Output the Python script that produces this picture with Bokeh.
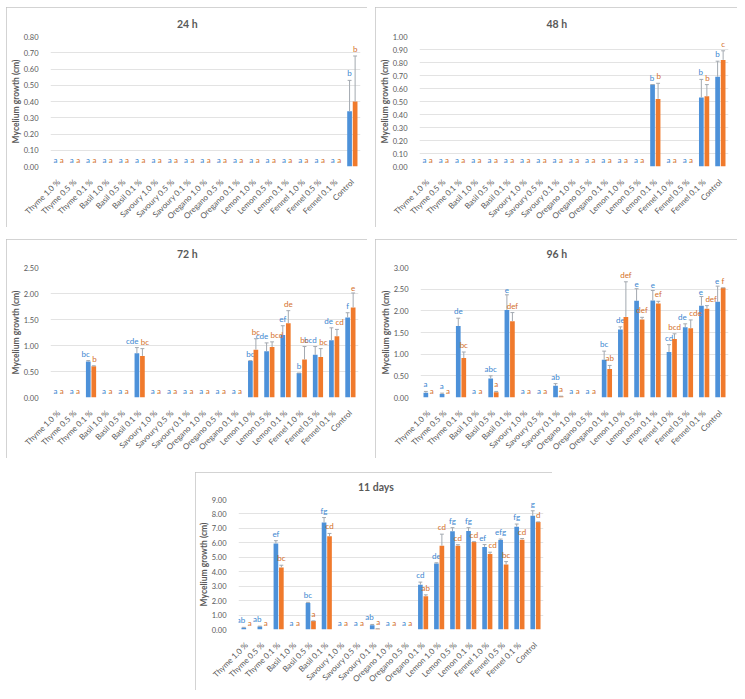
from math import pi
from bokeh.plotting import figure
from bokeh.models import (ColumnDataSource, Range1d, SingleIntervalTicker, NumeralTickFormatter,
                          Spacer, Title)
from bokeh.transform import dodge
from bokeh.layouts import row, column
from bokeh.embed import file_html
from bokeh.resources import INLINE
from bokeh.core.properties import value

FONT = "Lato"

categories = ["Thyme 1.0 %", "Thyme 0.5 %", "Thyme 0.1 %", "Basil 1.0 %", "Basil 0.5 %",
              "Basil 0.1 %", "Savoury 1.0 %", "Savoury 0.5 %", "Savoury 0.1 %",
              "Oregano 1.0 %", "Oregano 0.5 %", "Oregano 0.1 %", "Lemon 1.0 %",
              "Lemon 0.5 %", "Lemon 0.1 %", "Fennel 1.0 %", "Fennel 0.5 %",
              "Fennel 0.1 %", "Control"]

# ---- 24 h ----
h24_blue = [0, 0, 0, 0, 0, 0, 0, 0, 0, 0, 0, 0, 0, 0, 0, 0, 0, 0, 0.34]
h24_blue_sd = [0, 0, 0, 0, 0, 0, 0, 0, 0, 0, 0, 0, 0, 0, 0, 0, 0, 0, 0.19]
h24_blue_lab = ["a", "a", "a", "a", "a", "a", "a", "a", "a", "a", "a", "a", "a", "a", "a", "a", "a", "a", "b"]
h24_orange = [0, 0, 0, 0, 0, 0, 0, 0, 0, 0, 0, 0, 0, 0, 0, 0, 0, 0, 0.40]
h24_orange_sd = [0, 0, 0, 0, 0, 0, 0, 0, 0, 0, 0, 0, 0, 0, 0, 0, 0, 0, 0.28]
h24_orange_lab = ["a", "a", "a", "a", "a", "a", "a", "a", "a", "a", "a", "a", "a", "a", "a", "a", "a", "a", "b"]

# ---- 48 h ----
h48_blue = [0, 0, 0, 0, 0, 0, 0, 0, 0, 0, 0, 0, 0, 0, 0.63, 0, 0, 0.53, 0.69]
h48_blue_sd = [0, 0, 0, 0, 0, 0, 0, 0, 0, 0, 0, 0, 0, 0, 0.0, 0, 0, 0.14, 0.12]
h48_blue_lab = ["a", "a", "a", "a", "a", "a", "a", "a", "a", "a", "a", "a", "a", "a", "b", "a", "a", "b", "b"]
h48_orange = [0, 0, 0, 0, 0, 0, 0, 0, 0, 0, 0, 0, 0, 0, 0.52, 0, 0, 0.54, 0.82]
h48_orange_sd = [0, 0, 0, 0, 0, 0, 0, 0, 0, 0, 0, 0, 0, 0, 0.12, 0, 0, 0.09, 0.07]
h48_orange_lab = ["a", "a", "a", "a", "a", "a", "a", "a", "a", "a", "a", "a", "a", "a", "b", "a", "a", "b", "c"]

# ---- 72 h ----
h72_blue = [0, 0, 0.69, 0, 0, 0.85, 0, 0, 0, 0, 0, 0, 0.70, 0.89, 1.20, 0.47, 0.82, 1.10, 1.54]
h72_blue_sd = [0, 0, 0.02, 0, 0, 0.11, 0, 0, 0, 0, 0, 0, 0.01, 0.16, 0.18, 0.0, 0.16, 0.24, 0.09]
h72_blue_lab = ["a", "a", "bc", "a", "a", "cde", "a", "a", "a", "a", "a", "a", "bc", "cde", "ef", "b", "bcd", "de", "f"]
h72_orange = [0, 0, 0.60, 0, 0, 0.80, 0, 0, 0, 0, 0, 0, 0.92, 0.97, 1.43, 0.73, 0.78, 1.18, 1.73]
h72_orange_sd = [0, 0, 0.01, 0, 0, 0.14, 0, 0, 0, 0, 0, 0, 0.21, 0.10, 0.24, 0.25, 0.16, 0.13, 0.28]
h72_orange_lab = ["a", "a", "b", "a", "a", "bc", "a", "a", "a", "a", "a", "a", "bc", "bcd", "de", "bc", "bc", "cd", "e"]

# ---- 96 h ----
h96_blue = [0.11, 0.08, 1.65, 0, 0.44, 2.02, 0, 0, 0.27, 0, 0, 0.87, 1.57, 2.23, 2.24, 1.05, 1.62, 2.12, 2.21]
h96_blue_sd = [0.03, 0.02, 0.18, 0, 0.06, 0.35, 0, 0, 0.05, 0, 0, 0.20, 0.06, 0.28, 0.23, 0.17, 0.08, 0.21, 0.36]
h96_blue_lab = ["a", "a", "de", "a", "abc", "e", "a", "a", "ab", "a", "a", "bc", "de", "e", "e", "cd", "de", "e", "e"]
h96_orange = [0, 0, 0.91, 0, 0.12, 1.76, 0, 0, 0.03, 0, 0, 0.66, 1.86, 1.80, 2.17, 1.35, 1.60, 2.05, 2.53]
h96_orange_sd = [0, 0, 0.14, 0, 0.02, 0.20, 0, 0, 0.0, 0, 0, 0.08, 0.81, 0.05, 0.05, 0.12, 0.19, 0.07, 0.0]
h96_orange_lab = ["a", "a", "bc", "a", "a", "def", "a", "a", "a", "a", "a", "ab", "def", "def", "ef", "bcd", "cde", "def", "f"]

# ---- 11 days ----
d11_blue = [0.12, 0.20, 5.95, 0, 1.83, 7.40, 0, 0, 0.30, 0, 0, 3.10, 4.57, 6.80, 6.82, 5.72, 6.20, 7.12, 7.87]
d11_blue_sd = [0.03, 0.03, 0.20, 0, 0.05, 0.35, 0, 0, 0.05, 0, 0, 0.18, 0.05, 0.25, 0.23, 0.16, 0.06, 0.18, 0.35]
d11_blue_lab = ["ab", "ab", "ef", "a", "bc", "fg", "a", "a", "ab", "a", "a", "cd", "de", "fg", "fg", "ef", "efg", "fg", "g"]
d11_orange = [0, 0, 4.30, 0, 0.58, 6.45, 0, 0, 0.05, 0, 0, 2.30, 5.80, 5.80, 6.05, 5.22, 4.50, 6.22, 7.45]
d11_orange_sd = [0, 0, 0.15, 0, 0.02, 0.20, 0, 0, 0.0, 0, 0, 0.10, 0.80, 0.07, 0.03, 0.13, 0.20, 0.08, 0.0]
d11_orange_lab = ["a", "a", "bc", "a", "a", "cd", "a", "a", "a", "a", "a", "ab", "cd", "cd", "cd", "cd", "bc", "cd", "d"]

BLUE = "#4d91d9"
ORANGE = "#f07a2c"
BLUE_TXT = "#3a86d0"
ORANGE_TXT = "#d46f2a"
ERR = "#a3a9b0"
GREY_TXT = "#595959"
OFF = 0.17


def add_series(p, vals, sds, labs, off, col, tcol, collide, side):
    up = [v + s for v, s in zip(vals, sds)]
    src = ColumnDataSource(dict(cat=categories, val=vals, up=up))
    p.vbar(x=dodge("cat", off, range=p.x_range), top="val", width=0.29,
           source=src, fill_color=col, line_color=None)
    ec = [c for c, v in zip(categories, vals) if v > 0]
    ev = [v for v in vals if v > 0]
    eu = [u for u, v in zip(up, vals) if v > 0]
    esrc = ColumnDataSource(dict(cat=ec, val=ev, up=eu))
    p.segment(x0=dodge("cat", off, range=p.x_range), y0="val",
              x1=dodge("cat", off, range=p.x_range), y1="up",
              source=esrc, line_color=ERR, line_width=1)
    p.segment(x0=dodge("cat", off - 0.12, range=p.x_range), y0="up",
              x1=dodge("cat", off + 0.12, range=p.x_range), y1="up",
              source=esrc, line_color=ERR, line_width=1)
    free = [i for i in range(len(categories)) if not collide[i]]
    fsrc = ColumnDataSource(dict(cat=[categories[i] for i in free],
                                 up=[up[i] for i in free],
                                 lab=[labs[i] for i in free]))
    p.text(x=dodge("cat", off, range=p.x_range), y="up", text="lab", source=fsrc,
           text_align="center", text_baseline="bottom", y_offset=-2,
           text_font=value(FONT), text_font_size="8px", text_color=tcol)
    busy = [i for i in range(len(categories)) if collide[i]]
    bsrc = ColumnDataSource(dict(cat=[categories[i] for i in busy],
                                 up=[up[i] for i in busy],
                                 lab=[labs[i] for i in busy]))
    p.text(x="cat", y="up", text="lab", source=bsrc,
           text_align="right" if side < 0 else "left", x_offset=1.2 * side,
           text_baseline="bottom", y_offset=-2,
           text_font=value(FONT), text_font_size="8px", text_color=tcol)


def panel(title, title_w, pad, data, ymax, step, w, h, ml, mr, mt, mb):
    b, bsd, blab, o, osd, olab = data
    p = figure(x_range=categories, y_range=Range1d(0, ymax), width=w, height=h,
               output_backend="svg", toolbar_location=None,
               min_border_left=ml, min_border_right=mr, min_border_top=mt,
               min_border_bottom=mb)
    ppu = (h - mt - mb) / ymax
    collide = [abs((bv + bs) - (ov + os)) * ppu < 10
               for bv, bs, ov, os in zip(b, bsd, o, osd)]
    add_series(p, b, bsd, blab, -OFF, BLUE, BLUE_TXT, collide, -1)
    add_series(p, o, osd, olab, OFF, ORANGE, ORANGE_TXT, collide, 1)
    p.title.text = title
    p.title.align = "left"
    p.title.offset = w / 2 - title_w / 2 - ml
    p.title.text_font = FONT
    p.title.text_font_size = "10.5px"
    p.title.text_font_style = "bold"
    p.title.text_color = GREY_TXT
    p.title.standoff = 0
    p.add_layout(Title(text=" ", text_font_size="4px", standoff=pad), "above")
    p.outline_line_color = None
    p.xgrid.grid_line_color = None
    p.ygrid.grid_line_color = "#e3e3e3"
    p.yaxis.ticker = SingleIntervalTicker(interval=step, num_minor_ticks=0)
    p.yaxis.formatter = NumeralTickFormatter(format="0.00")
    p.yaxis.axis_label = "Mycelium growth (cm)"
    p.yaxis.axis_label_text_font = FONT
    p.yaxis.axis_label_text_font_size = "8.5px"
    p.yaxis.axis_label_text_font_style = "bold"
    p.yaxis.axis_label_text_color = GREY_TXT
    p.yaxis.axis_label_standoff = 0
    for ax in (p.xaxis, p.yaxis):
        ax.axis_line_color = None
        ax.major_tick_line_color = None
        ax.minor_tick_line_color = None
        ax.major_label_text_font = FONT
        ax.major_label_text_color = GREY_TXT
    p.yaxis.major_label_text_font_size = "7.5px"
    p.yaxis.major_label_standoff = 6
    p.xaxis.major_label_text_font_size = "8px"
    p.xaxis.major_label_orientation = pi / 4
    p.xaxis.major_label_standoff = 8
    p.styles = {"outline": "1px solid #c4c4c4", "outline-offset": "-1px"}
    return p


p1 = panel("24 h", 20, 0, (h24_blue, h24_blue_sd, h24_blue_lab, h24_orange, h24_orange_sd, h24_orange_lab),
           0.8, 0.1, 361, 220, 44, 7, 29, 54)
p2 = panel("48 h", 20, 0, (h48_blue, h48_blue_sd, h48_blue_lab, h48_orange, h48_orange_sd, h48_orange_lab),
           1.0, 0.1, 362, 220, 44, 9, 29, 54)
p3 = panel("72 h", 20, 1, (h72_blue, h72_blue_sd, h72_blue_lab, h72_orange, h72_orange_sd, h72_orange_lab),
           2.5, 0.5, 361, 219, 44, 9, 28, 54)
p4 = panel("96 h", 20, 1, (h96_blue, h96_blue_sd, h96_blue_lab, h96_orange, h96_orange_sd, h96_orange_lab),
           3.0, 0.5, 362, 219, 45, 9, 28, 54)
p5 = panel("11 days", 44, 0, (d11_blue, d11_blue_sd, d11_blue_lab, d11_orange, d11_orange_sd, d11_orange_lab),
           9.0, 1.0, 357, 218, 37, 9, 27, 53)

layout = column(
    Spacer(height=7),
    row(Spacer(width=6), p1, Spacer(width=8), p2),
    Spacer(height=12),
    row(Spacer(width=6), p3, Spacer(width=8), p4),
    Spacer(height=14),
    row(Spacer(width=195), p5),
)

open("out.html", "w").write(file_html(layout, INLINE))
